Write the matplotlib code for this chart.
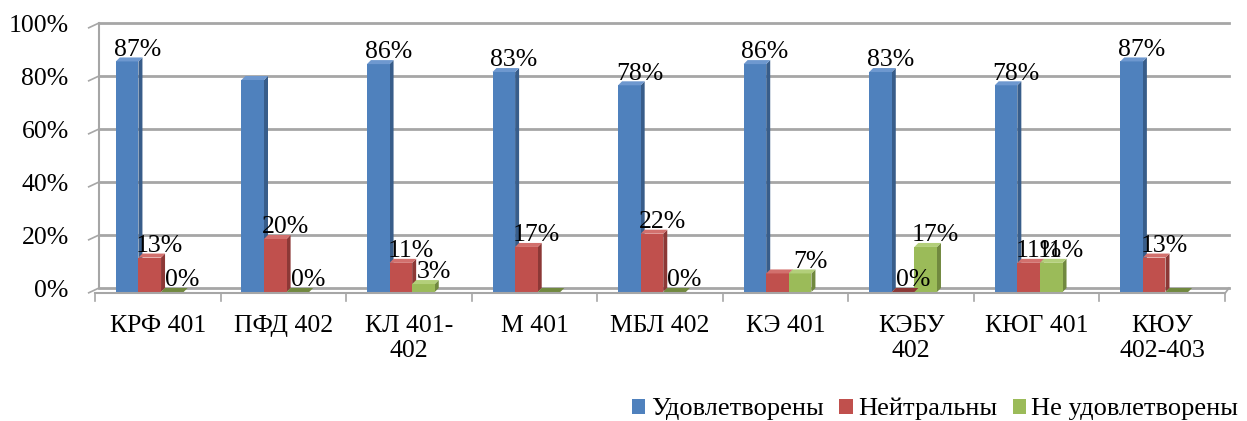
import matplotlib
matplotlib.use("Agg")
import matplotlib.pyplot as plt
from matplotlib.patches import Polygon, Rectangle

categories = ["КРФ 401", "ПФД 402", "КЛ 401-\n402", "М 401", "МБЛ 402", "КЭ 401", "КЭБУ\n402", "КЮГ 401", "КЮУ\n402-403"]
series_names = ["Удовлетворены", "Нейтральны", "Не удовлетворены"]
satisfied = [87, 80, 86, 83, 78, 86, 83, 78, 87]
neutral = [13, 20, 11, 17, 22, 7, 0, 11, 13]
unsatisfied = [0, 0, 3, 0, 0, 7, 17, 11, 0]
# which data labels are visible in the original
show_satisfied = [1, 0, 1, 1, 1, 1, 1, 1, 1]
show_neutral = [1, 1, 1, 1, 1, 0, 1, 1, 1]
show_unsatisfied = [1, 1, 1, 0, 1, 1, 1, 1, 0]
yticks = [0, 20, 40, 60, 80, 100]

front_colors = ["#4f81bd", "#c0504d", "#9bbb59"]
side_colors = ["#385d8a", "#8c3836", "#71893f"]
top_colors = ["#6e98cf", "#d2706d", "#b3cf7a"]

plt.rcParams['font.family'] = ['Liberation Serif', 'DejaVu Serif']
FS = 18.5

fig = plt.figure(figsize=(12.47, 4.21), dpi=100)
ax = fig.add_axes([95/1247, 1-292/421, 1130/1247, 265/421])
ax.set_xlim(-0.5, 8.5)
ax.set_ylim(0, 100)
for s in ax.spines.values():
    s.set_visible(False)

dx = 4/125.5
dy = 4/265*100
grid_c = "#a6a6a6"

# back wall gridlines
for v in yticks:
    ax.plot([-0.5 + dx, 8.5 + dx], [v + dy, v + dy], color=grid_c, lw=2, zorder=1, clip_on=False)
    ax.plot([-0.5 - 0.05, -0.5 + dx], [v - 0.3, v + dy], color=grid_c, lw=1.2, zorder=1, clip_on=False)
# left wall line
ax.plot([-0.5 + dx, -0.5 + dx], [dy, 100 + dy], color=grid_c, lw=1.5, zorder=1, clip_on=False)
# floor front edge
ax.plot([-0.5, 8.5], [-0.5, -0.5], color=grid_c, lw=1.5, zorder=5, clip_on=False)
ax.plot([8.5, 8.5 + dx], [-0.5, dy], color=grid_c, lw=1.2, zorder=5, clip_on=False)
for k in range(10):
    ax.plot([k - 0.5, k - 0.5], [-0.5, -3.5], color=grid_c, lw=1.2, zorder=5, clip_on=False)

ax.set_xticks([])
ax.set_yticks([])
for v in yticks:
    ax.text(-0.71, v + dy * 0.3, f"{v}%", ha="right", va="center", fontsize=FS)

w = 0.18
group_off = -0.064
series = [satisfied, neutral, unsatisfied]
shows = [show_satisfied, show_neutral, show_unsatisfied]
for si, vals in enumerate(series):
    for ci, h in enumerate(vals):
        x0 = ci + group_off + (si - 1.5) * w
        z = 3 + ci * 0.01
        ax.add_patch(Rectangle((x0, 0), w, h, facecolor=front_colors[si], edgecolor="none", zorder=z + 0.002, clip_on=False))
        ax.add_patch(Polygon([(x0 + w, 0), (x0 + w + dx, dy), (x0 + w + dx, h + dy), (x0 + w, h)],
                             closed=True, facecolor=side_colors[si], edgecolor="none", zorder=z + 0.001, clip_on=False))
        ax.add_patch(Polygon([(x0, h), (x0 + dx, h + dy), (x0 + w + dx, h + dy), (x0 + w, h)],
                             closed=True, facecolor=top_colors[si] if h > 0 else side_colors[si], edgecolor="none", zorder=z + 0.003, clip_on=False))
for si, vals in enumerate(series):
    for ci, h in enumerate(vals):
        if shows[si][ci]:
            x0 = ci + group_off + (si - 1.5) * w
            ax.text(x0 + w / 2 + 0.08, h + 0.3, f"{h}%", ha="center", va="bottom", fontsize=FS, zorder=10)

for ci, lab in enumerate(categories):
    ax.text(ci, -8.5, lab, ha="center", va="top", fontsize=FS, linespacing=1.2)

# legend
handles = [Rectangle((0, 0), 1, 1, facecolor=c, edgecolor="none") for c in front_colors]
fig.legend(handles, series_names, loc="lower right", bbox_to_anchor=(1.012, -0.055), ncol=3, frameon=False,
           fontsize=19, handlelength=0.5, handleheight=0.5, handletextpad=0.2, columnspacing=0.6)

fig.savefig("out.png", dpi=100)
